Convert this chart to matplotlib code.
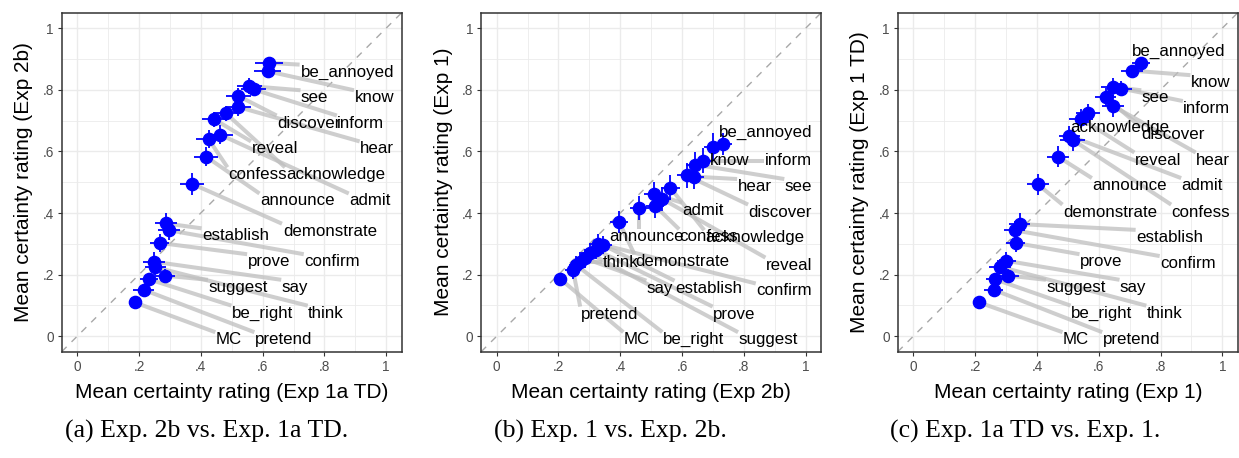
import numpy as np
import matplotlib

matplotlib.use("Agg")
import matplotlib.pyplot as plt  # noqa: E402

# ---------------------------------------------------------------------------
# data: one entry per predicate, same order in every list
# ---------------------------------------------------------------------------
predicates = ["be_annoyed", "know", "see", "inform", "discover", "hear",
              "acknowledge", "reveal", "admit", "confess", "announce",
              "demonstrate", "establish", "confirm", "prove", "say", "think",
              "suggest", "be_right", "pretend", "MC"]

# (a) Exp 2b vs Exp 1a TD
a_x = [0.621, 0.616, 0.557, 0.571, 0.521, 0.521, 0.482, 0.444, 0.463, 0.425,
       0.417, 0.371, 0.288, 0.297, 0.267, 0.248, 0.253, 0.283, 0.232, 0.215, 0.186]
a_y = [0.887, 0.860, 0.812, 0.801, 0.780, 0.744, 0.723, 0.704, 0.654, 0.640,
       0.583, 0.495, 0.366, 0.344, 0.303, 0.242, 0.224, 0.197, 0.185, 0.151, 0.110]
a_xerr = [0.045, 0.045, 0.040, 0.040, 0.040, 0.040, 0.040, 0.040, 0.040, 0.040,
          0.040, 0.038, 0.035, 0.035, 0.030, 0.035, 0.035, 0.032, 0.030, 0.035, 0.0]
a_yerr = [0.015, 0.015, 0.025, 0.020, 0.025, 0.030, 0.025, 0.025, 0.030, 0.030,
          0.030, 0.036, 0.035, 0.030, 0.030, 0.030, 0.025, 0.020, 0.020, 0.020, 0.0]

# (b) Exp 1 vs Exp 2b
b_x = [0.731, 0.701, 0.643, 0.667, 0.615, 0.640, 0.562, 0.535, 0.508, 0.513,
       0.462, 0.396, 0.344, 0.328, 0.323, 0.285, 0.269, 0.301, 0.258, 0.247, 0.206]
b_y = [0.624, 0.615, 0.557, 0.570, 0.522, 0.518, 0.482, 0.446, 0.462, 0.423,
       0.416, 0.371, 0.296, 0.301, 0.280, 0.253, 0.242, 0.269, 0.231, 0.215, 0.186]
b_xerr = [0.030, 0.030, 0.030, 0.030, 0.030, 0.030, 0.030, 0.030, 0.030, 0.030,
          0.030, 0.028, 0.030, 0.030, 0.028, 0.028, 0.028, 0.028, 0.025, 0.025, 0.0]
b_yerr = [0.037, 0.045, 0.040, 0.040, 0.040, 0.040, 0.040, 0.040, 0.040, 0.040,
          0.040, 0.035, 0.030, 0.030, 0.030, 0.030, 0.030, 0.030, 0.028, 0.028, 0.0]

# (c) Exp 1a TD vs Exp 1
c_x = [0.737, 0.708, 0.647, 0.672, 0.622, 0.647, 0.565, 0.543, 0.505, 0.516,
       0.468, 0.403, 0.344, 0.328, 0.331, 0.301, 0.280, 0.307, 0.264, 0.260, 0.213]
c_y = [0.887, 0.862, 0.809, 0.804, 0.776, 0.747, 0.723, 0.706, 0.651, 0.637,
       0.583, 0.493, 0.364, 0.344, 0.303, 0.245, 0.226, 0.197, 0.185, 0.151, 0.110]
c_xerr = [0.030, 0.035, 0.040, 0.035, 0.035, 0.035, 0.040, 0.040, 0.035, 0.040,
          0.035, 0.035, 0.035, 0.035, 0.030, 0.030, 0.035, 0.035, 0.030, 0.030, 0.0]
c_yerr = [0.015, 0.015, 0.030, 0.025, 0.030, 0.035, 0.030, 0.030, 0.030, 0.035,
          0.035, 0.035, 0.035, 0.030, 0.030, 0.030, 0.025, 0.020, 0.020, 0.020, 0.0]

# repelled label positions (data coords, label centre)
a_lab = [(0.874, 0.857), (0.961, 0.774), (0.768, 0.774), (0.918, 0.692),
         (0.750, 0.692), (0.970, 0.608), (0.836, 0.524), (0.639, 0.608),
         (0.947, 0.439), (0.583, 0.524), (0.713, 0.439), (0.818, 0.341),
         (0.513, 0.326), (0.825, 0.242), (0.620, 0.242), (0.704, 0.159),
         (0.805, 0.075), (0.521, 0.159), (0.600, 0.075), (0.668, -0.011),
         (0.490, -0.011)]
b_lab = [(0.870, 0.661), (0.753, 0.570), (0.976, 0.486), (0.944, 0.570),
         (0.918, 0.403), (0.834, 0.486), (0.835, 0.320), (0.946, 0.231),
         (0.668, 0.409), (0.687, 0.323), (0.484, 0.323), (0.601, 0.242),
         (0.686, 0.156), (0.930, 0.147), (0.769, 0.072), (0.528, 0.156),
         (0.401, 0.240), (0.879, -0.011), (0.637, -0.011), (0.365, 0.072),
         (0.453, -0.011)]
c_lab = [(0.860, 0.923), (0.962, 0.823), (0.783, 0.774), (0.950, 0.739),
         (0.841, 0.654), (0.970, 0.572), (0.667, 0.677), (0.792, 0.572),
         (0.935, 0.489), (0.931, 0.403), (0.701, 0.489), (0.638, 0.403),
         (0.830, 0.321), (0.889, 0.236), (0.608, 0.242), (0.711, 0.159),
         (0.813, 0.075), (0.527, 0.159), (0.610, 0.075), (0.706, -0.011),
         (0.526, -0.011)]

panels = [
    dict(x=a_x, y=a_y, xerr=a_xerr, yerr=a_yerr, lab=a_lab,
         xlabel="Mean certainty rating (Exp 1a TD)",
         ylabel="Mean certainty rating (Exp 2b)",
         caption="(a) Exp. 2b vs. Exp. 1a TD.", left=61.7, cap_x=207),
    dict(x=b_x, y=b_y, xerr=b_xerr, yerr=b_yerr, lab=b_lab,
         xlabel="Mean certainty rating (Exp 2b)",
         ylabel="Mean certainty rating (Exp 1)",
         caption="(b) Exp. 1 vs. Exp. 2b.", left=481.2, cap_x=610),
    dict(x=c_x, y=c_y, xerr=c_xerr, yerr=c_yerr, lab=c_lab,
         xlabel="Mean certainty rating (Exp 1)",
         ylabel="Mean certainty rating (Exp 1 TD)",
         caption="(c) Exp. 1a TD vs. Exp. 1.", left=897.8, cap_x=1025),
]

major = [0, 0.2, 0.4, 0.6, 0.8, 1.0]
major_lbl = ["0", ".2", ".4", ".6", ".8", "1"]
minor = [0.1, 0.3, 0.5, 0.7, 0.9]

W, H = 1239, 458
SANS = "Liberation Sans"
plt.rcParams["font.family"] = [SANS, "DejaVu Sans"]

fig = plt.figure(figsize=(W / 100, H / 100), dpi=100)

axes, texts = [], []
for p in panels:
    ax = fig.add_axes([p["left"] / W, 1 - 351.7 / H, 340 / W, 339 / H])
    ax.set_xlim(-0.05, 1.05)
    ax.set_ylim(-0.05, 1.05)
    ax.set_xticks(major)
    ax.set_xticklabels(major_lbl)
    ax.set_yticks(major)
    ax.set_yticklabels(major_lbl)
    ax.set_xticks(minor, minor=True)
    ax.set_yticks(minor, minor=True)
    ax.grid(which="major", color="#EBEBEB", lw=1.0, zorder=0)
    ax.grid(which="minor", color="#EBEBEB", lw=0.6, zorder=0)
    ax.set_axisbelow(True)
    ax.tick_params(which="major", length=2.8, width=0.8, color="#333333",
                   labelcolor="#4D4D4D", labelsize=9.8, pad=3.0)
    ax.tick_params(which="minor", length=0)
    for s in ax.spines.values():
        s.set_color("#333333")
        s.set_linewidth(1.1)

    ax.plot([-0.05, 1.05], [-0.05, 1.05], color="#A8A8A8", lw=1.0,
            dashes=(5, 5), zorder=1)

    ax.errorbar(p["x"], p["y"], xerr=p["xerr"], yerr=p["yerr"], fmt="o",
                color="blue", ms=8.8, elinewidth=1.3, capsize=0, zorder=3)

    tt = []
    for name, (lx, ly) in zip(predicates, p["lab"]):
        tt.append(ax.text(lx, ly, name, ha="center", va="center",
                          fontsize=12.2, color="black", zorder=4))
    texts.append(tt)

    ax.set_xlabel(p["xlabel"], fontsize=15, color="black")
    ax.set_ylabel(p["ylabel"], fontsize=15, color="black")
    ax.xaxis.set_label_coords(0.5, (351.7 - 392) / 339)
    ax.xaxis.label.set_va("center")
    ax.yaxis.set_label_coords(-38.0 / 340, 0.5)
    ax.yaxis.label.set_va("center")

    fig.text(p["cap_x"] / W, 1 - 431 / H, p["caption"], ha="center",
             va="center", fontsize=18.5, family="Liberation Serif")
    axes.append(ax)

# segments from each point to the nearest edge of its label
fig.canvas.draw()
renderer = fig.canvas.get_renderer()
for ax, p, tt in zip(axes, panels, texts):
    inv = ax.transData.inverted()
    for px, py, t in zip(p["x"], p["y"], tt):
        bb = t.get_window_extent(renderer).expanded(1.02, 1.0)
        dx, dy = ax.transData.transform((px, py))
        qx = min(max(dx, bb.x0), bb.x1)
        qy = min(max(dy, bb.y0), bb.y1)
        if np.hypot(qx - dx, qy - dy) < 2:
            continue
        ex, ey = inv.transform((qx, qy))
        ax.plot([px, ex], [py, ey], color="#BEBEBE", alpha=0.75, lw=2.9,
                solid_capstyle="butt", zorder=2)

fig.savefig("out.png", dpi=100)
